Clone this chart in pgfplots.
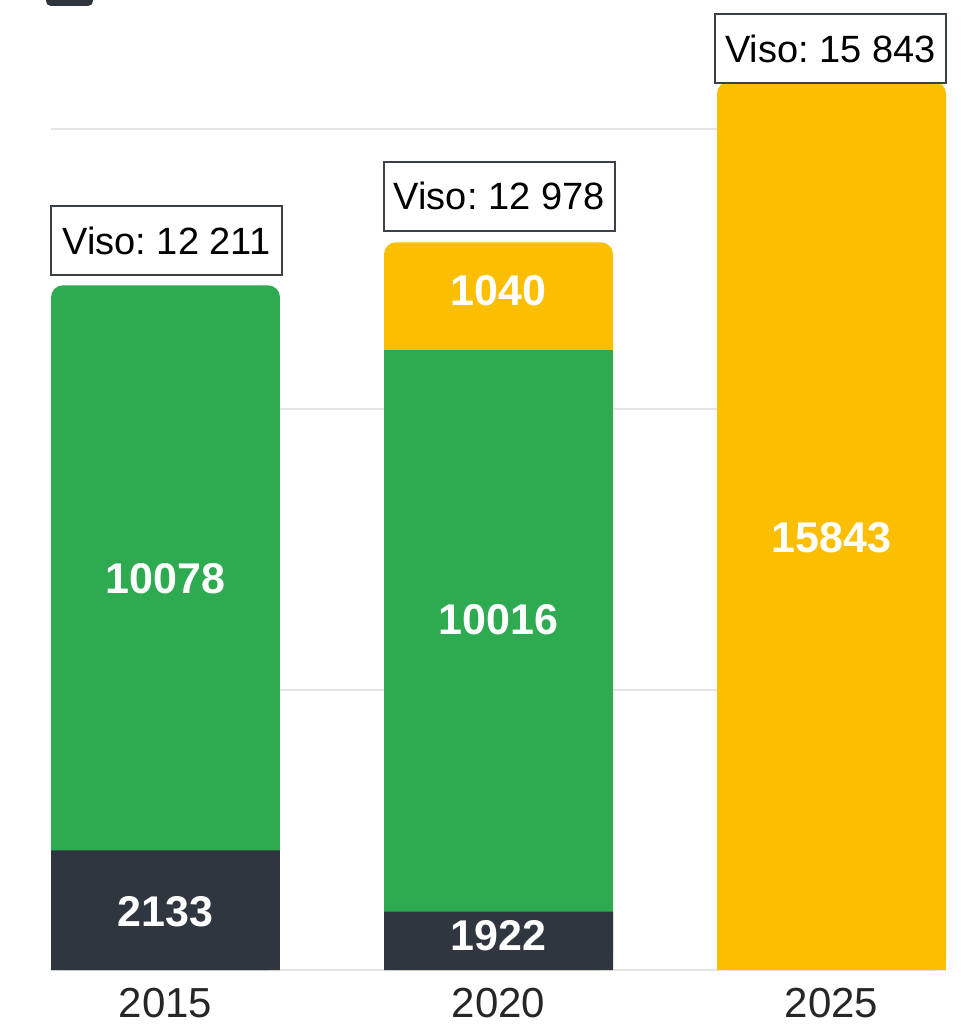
\documentclass[border=0pt]{standalone}
\usepackage{pgfplots}
\pgfplotsset{compat=1.18}
\usepackage{fontspec}
\setmainfont{Liberation Sans}
\frenchspacing
\definecolor{cgreen}{HTML}{2EAA51}
\definecolor{cdark}{HTML}{30363F}
\definecolor{cyellow}{HTML}{FCBE00}
\definecolor{cgrid}{HTML}{E5E5E5}
\definecolor{cbox}{HTML}{3C4048}
\definecolor{ctick}{HTML}{262626}
\pgfplotsset{
  common/.style={
    scale only axis, width=447.5pt, at={(0,0)}, anchor=south west,
    xmin=-0.3438, xmax=2.3438, ymin=0,
  },
}
\tikzset{
  lab/.style={text=white, font=\bfseries\fontsize{21.5}{21.5}\selectfont, inner sep=0pt},
  viso/.style={draw=cbox, line width=1pt, fill=white, minimum width=115.5pt, minimum height=34.5pt, inner sep=0pt, text=black, font=\fontsize{19}{19}\selectfont},
}
\begin{document}
\begin{tikzpicture}
% layer 1: grid, tick labels, full bars (top colour) with rounded tops
\begin{axis}[common, height=485pt, ymax=17300,
  axis line style={draw=none}, major tick length=0pt,
  xtick={0,1,2}, xticklabels={2015,2020,2025},
  xticklabel style={font=\fontsize{21}{21}\selectfont, text=ctick, anchor=north, inner sep=0pt, yshift=-9pt},
  ytick={0,5000,10000,15000}, yticklabels={},
  ymajorgrids, grid style={cgrid, line width=1pt},
]
\addplot[ybar, bar width=114.5pt, bar shift=0pt, fill=cgreen, draw=none, rounded corners=6pt] coordinates {(0,12211)};
\addplot[ybar, bar width=114.5pt, bar shift=0pt, fill=cyellow, draw=none, rounded corners=6pt] coordinates {(1,12978) (2,15843)};
\end{axis}
% layer 2: square bottom of the single 2025 bar
\begin{axis}[common, hide axis, height=48.5pt, ymax=1730]
\addplot[ybar, bar width=114.5pt, bar shift=0pt, fill=cyellow, draw=none] coordinates {(2,15843)};
\end{axis}
% layer 3: stacked lower segments (below the top segment of each bar)
\begin{axis}[common, hide axis, height=485pt, ymax=17300, ybar stacked, bar width=114.5pt]
\addplot[fill=cdark, draw=none] coordinates {(0,2133) (1,1040) (2,0)};
\addplot[fill=cgreen, draw=none] coordinates {(0,0) (1,10016) (2,0)};
\end{axis}
% layer 4: labels
\begin{axis}[common, hide axis, height=485pt, ymax=17300, clip=false]
\node[lab] at (axis cs:0,6973) {10078};
\node[lab] at (axis cs:0,1034) {2133};
\node[lab] at (axis cs:1,6242) {10016};
\node[lab] at (axis cs:1,606) {1922};
\node[lab] at (axis cs:1,12110) {1040};
\node[lab] at (axis cs:2,7705) {15843};
\node[viso] at (axis cs:0.003,13011) {Viso: 12 211};
\node[viso] at (axis cs:1.002,13801) {Viso: 12 978};
\node[viso] at (axis cs:1.997,16432) {Viso: 15 843};
\end{axis}
\begin{scope}
\clip (-25.5pt,-27.5pt) rectangle (455pt,485pt);
\fill[cdark, rounded corners=2.5pt] (-2.5pt,482pt) rectangle (21pt,492pt);
\end{scope}
\pgfresetboundingbox
\useasboundingbox (-25.5pt,-27.5pt) rectangle (455pt,485pt);
\end{tikzpicture}
\end{document}
